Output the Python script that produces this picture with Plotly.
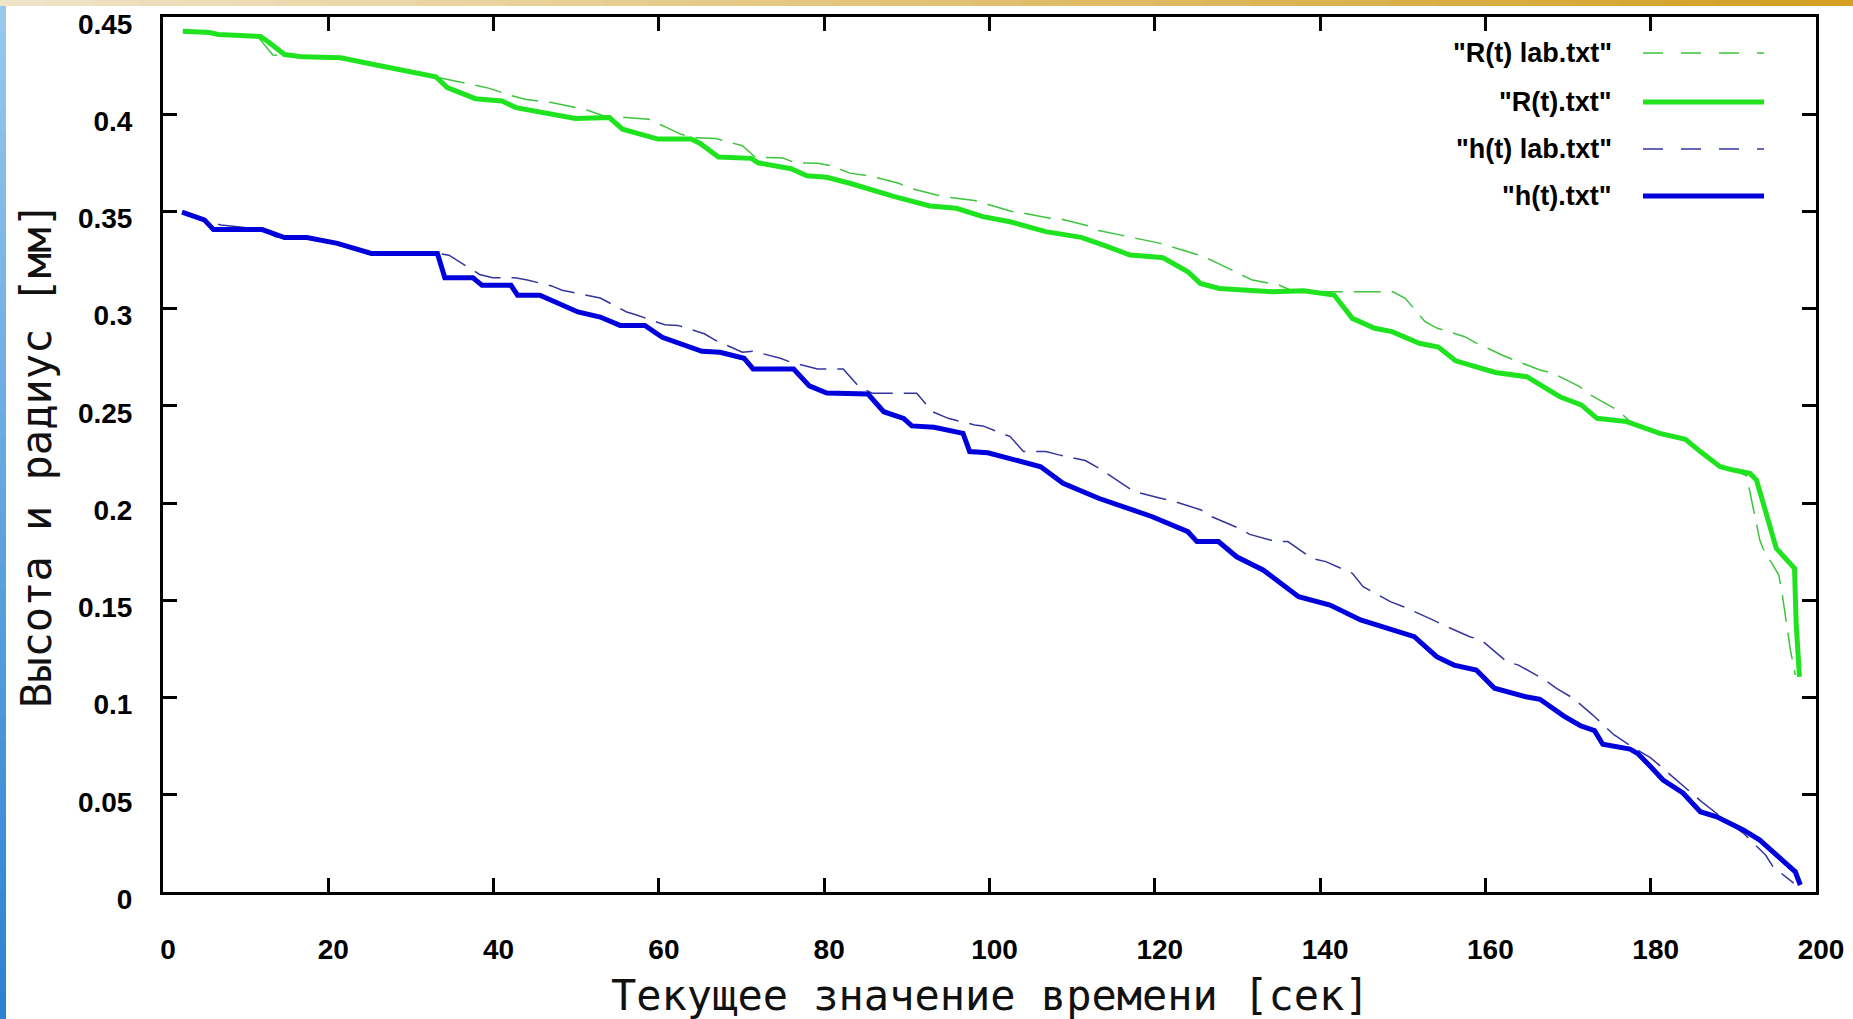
import plotly.graph_objects as go

# ---------------- data ----------------
R_t_time = [2.4, 5.6, 6.7, 11.8, 12.8, 14.7, 16.9, 21.5, 25.5, 33.0, 34.4, 37.8, 41.0, 42.7, 49.9,
            54.0, 55.6, 59.9, 63.9, 65.0, 67.2, 71.2, 72.0, 76.0, 77.9, 80.3, 83.1, 88.5, 92.8, 96.0,
            99.2, 102.5, 106.8, 111.1, 113.8, 117.0, 119.7, 121.0, 124.0, 125.5, 127.8, 134.2, 138.0,
            141.7, 143.9, 146.6, 148.7, 152.0, 154.3, 156.4, 161.2, 165.0, 169.0, 171.6, 173.5, 177.1,
            181.1, 184.2, 186.0, 188.4, 190.0, 192.0, 192.8, 195.2, 197.4, 197.6, 198.0]
R_t_val = [0.4427, 0.442, 0.441, 0.440, 0.437, 0.4307, 0.4295, 0.429, 0.4256, 0.4193, 0.4137, 0.408,
           0.4068, 0.4034, 0.3978, 0.3983, 0.3923, 0.3872, 0.3872, 0.385, 0.378, 0.3773, 0.375, 0.372,
           0.3684, 0.3676, 0.3645, 0.3576, 0.3528, 0.3516, 0.3473, 0.3447, 0.3396, 0.3367, 0.3327,
           0.3276, 0.3267, 0.3262, 0.319, 0.313, 0.3104, 0.3087, 0.3092, 0.307, 0.295, 0.2899, 0.2882,
           0.2822, 0.2803, 0.2732, 0.2672, 0.265, 0.2547, 0.2505, 0.2436, 0.2419, 0.2359, 0.2328,
           0.2265, 0.2187, 0.217, 0.2153, 0.2119, 0.1767, 0.1665, 0.1382, 0.1107]

R_lab_time = [2.4, 5.6, 6.7, 11.5, 13.3, 16.9, 21.5, 25.5, 33.0, 34.6, 37.3, 39.5, 42.0, 43.8, 47.0,
              51.3, 53.4, 56.0, 58.8, 60.9, 62.6, 64.2, 66.9, 70.1, 71.7, 75.0, 76.5, 79.2, 80.9, 83.1,
              85.8, 89.0, 90.4, 93.6, 95.0, 98.2, 99.5, 102.7, 104.1, 107.3, 108.7, 111.9, 113.2, 116.5,
              117.8, 121.0, 122.6, 125.9, 127.2, 130.4, 131.8, 135.0, 136.4, 139.6, 141.0, 148.8, 150.3,
              152.7, 154.2, 157.5, 158.8, 162.0, 164.0, 166.6, 168.2, 171.4, 172.7, 176.1, 177.5, 181.1,
              184.2, 186.0, 188.4, 190.0, 191.6, 193.2, 193.6, 195.5, 195.9, 196.9, 197.5]
R_lab_val = [0.4427, 0.442, 0.441, 0.4397, 0.4305, 0.4295, 0.429, 0.4256, 0.4193, 0.418, 0.4154, 0.4133,
             0.4097, 0.4077, 0.406, 0.4022, 0.399, 0.3983, 0.3974, 0.3932, 0.3898, 0.388, 0.3875,
             0.3838, 0.3778, 0.3775, 0.375, 0.3748, 0.3735, 0.3697, 0.368, 0.3645, 0.3619, 0.3585,
             0.3573, 0.3556, 0.3539, 0.35, 0.3491, 0.3465, 0.346, 0.3426, 0.3402, 0.3374, 0.3362,
             0.3333, 0.3311, 0.3268, 0.3242, 0.3173, 0.3147, 0.3122, 0.3096, 0.3087, 0.3087, 0.3087,
             0.3053, 0.2933, 0.2899, 0.2856, 0.2825, 0.2762, 0.2727, 0.2685, 0.2667, 0.2599, 0.2556,
             0.2475, 0.2419, 0.2359, 0.2328, 0.2265, 0.2187, 0.217, 0.214, 0.181, 0.1766, 0.163,
             0.1536, 0.1245, 0.1116]

h_t_time = [2.3, 5.0, 6.1, 12.0, 14.7, 17.4, 21.1, 25.2, 33.2, 34.1, 37.5, 38.6, 42.1, 42.9, 45.6,
            50.2, 52.9, 55.3, 58.3, 60.4, 65.2, 67.4, 70.3, 71.4, 76.3, 78.2, 80.3, 84.0, 85.3, 87.2,
            89.6, 90.6, 93.3, 96.8, 97.6, 99.8, 106.2, 108.9, 113.2, 119.7, 124.0, 125.1, 127.7, 129.9,
            133.1, 137.4, 141.2, 144.9, 151.4, 154.1, 156.2, 158.9, 161.1, 164.9, 166.6, 169.5, 171.5,
            173.2, 174.2, 177.5, 178.5, 180.0, 181.5, 183.9, 186.0, 188.0, 191.2, 193.2, 196.0, 197.5,
            198.1]
h_t_val = [0.3497, 0.3457, 0.3407, 0.3407, 0.3366, 0.3366, 0.3336, 0.3284, 0.3284, 0.3159, 0.3159,
           0.312, 0.312, 0.3069, 0.3069, 0.2983, 0.2957, 0.2914, 0.2914, 0.2853, 0.2781, 0.2776, 0.2745,
           0.269, 0.269, 0.2603, 0.2566, 0.2566, 0.2561, 0.247, 0.2436, 0.2397, 0.239, 0.2359, 0.2265,
           0.2259, 0.2187, 0.2102, 0.2025, 0.193, 0.1853, 0.1802, 0.1802, 0.1724, 0.1656, 0.1519,
           0.1476, 0.1399, 0.1313, 0.121, 0.1167, 0.1142, 0.1048, 0.1004, 0.0991, 0.0905, 0.0855,
           0.083, 0.076, 0.0735, 0.071, 0.0644, 0.0576, 0.0509, 0.0413, 0.0387, 0.0319, 0.0267,
           0.0165, 0.0104, 0.0036]

h_lab_time = [2.3, 5.0, 7.0, 12.0, 13.6, 17.4, 21.1, 25.2, 33.3, 34.6, 38.3, 39.9, 42.6, 44.1, 47.0,
              48.3, 51.5, 52.9, 56.1, 57.4, 60.7, 62.3, 65.5, 66.9, 70.1, 71.4, 74.7, 76.0, 79.2, 80.6,
              82.3, 84.2, 85.8, 91.2, 93.1, 95.0, 98.2, 99.2, 102.5, 104.1, 106.8, 108.4, 111.6, 113.2,
              116.2, 117.5, 120.7, 122.4, 125.6, 126.9, 130.2, 131.5, 134.7, 136.1, 139.0, 140.7, 143.9,
              145.2, 148.5, 150.1, 153.5, 154.9, 158.1, 159.5, 162.6, 164.0, 167.2, 168.6, 170.6, 173.0,
              175.5, 178.0, 180.0, 183.0, 186.0, 189.0, 191.2, 193.9, 194.8, 197.3]
h_lab_val = [0.3497, 0.3457, 0.343, 0.3409, 0.337, 0.3366, 0.3336, 0.3284, 0.3284, 0.3275, 0.3176,
             0.3159, 0.3159, 0.3147, 0.3117, 0.3095, 0.3069, 0.3055, 0.2983, 0.2966, 0.2917, 0.2914,
             0.2871, 0.2836, 0.2776, 0.2781, 0.2745, 0.2724, 0.269, 0.269, 0.269, 0.2599, 0.2565,
             0.2565, 0.247, 0.2436, 0.2402, 0.2397, 0.2342, 0.2265, 0.2265, 0.2248, 0.2219, 0.218,
             0.2094, 0.2059, 0.2025, 0.2008, 0.1965, 0.193, 0.187, 0.1839, 0.1802, 0.1802, 0.1716,
             0.1699, 0.1639, 0.157, 0.1493, 0.1467, 0.1402, 0.1373, 0.1313, 0.1296, 0.1184, 0.1167,
             0.109, 0.1047, 0.0997, 0.091, 0.081, 0.074, 0.069, 0.058, 0.047, 0.037, 0.0303, 0.019,
             0.013, 0.0046]

series_names = ['"R(t) lab.txt"', '"R(t).txt"', '"h(t) lab.txt"', '"h(t).txt"']
x_ticks = [0, 20, 40, 60, 80, 100, 120, 140, 160, 180, 200]
y_ticks = [0, 0.05, 0.1, 0.15, 0.2, 0.25, 0.3, 0.35, 0.4, 0.45]
y_tick_text = ["0", "0.05", "0.1", "0.15", "0.2", "0.25", "0.3", "0.35", "0.4", "0.45"]
x_title = "Текущее значение времени [сек]"
y_title = "Высота и радиус [мм]"

# ---------------- styles ----------------
GREEN = "#1fe31f"
GREEN_THIN = "#3cc43c"
BLUE = "#0000dc"
BLUE_THIN = "#34349e"
DASH = "27px,11px"

W, H = 1853, 1019
L, R, T, B = 163, 37, 17, 127
PW, PH = W - L - R, H - T - B


def px_to_paper_x(px):
    return (px - L) / PW


def px_to_paper_y(py):
    return (H - B - py) / PH


fig = go.Figure()
fig.add_trace(go.Scatter(x=R_lab_time, y=R_lab_val, mode="lines", name=series_names[0],
                         line=dict(color=GREEN_THIN, width=1.5, dash=DASH)))
fig.add_trace(go.Scatter(x=R_t_time, y=R_t_val, mode="lines", name=series_names[1],
                         line=dict(color=GREEN, width=5)))
fig.add_trace(go.Scatter(x=h_lab_time, y=h_lab_val, mode="lines", name=series_names[2],
                         line=dict(color=BLUE_THIN, width=1.5, dash=DASH)))
fig.add_trace(go.Scatter(x=h_t_time, y=h_t_val, mode="lines", name=series_names[3],
                         line=dict(color=BLUE, width=5)))

shapes = []
annotations = []

# manual legend (text to the left of the sample, gnuplot style)
leg_rows_px = [53, 102, 149, 196]
leg_styles = [(GREEN_THIN, 1.5, "20px,18px"), (GREEN, 5, "solid"),
              (BLUE_THIN, 1.5, "20px,18px"), (BLUE, 5, "solid")]
for name, ypx, (col, wid, dsh) in zip(series_names, leg_rows_px, leg_styles):
    annotations.append(dict(xref="paper", yref="paper", x=px_to_paper_x(1614), y=px_to_paper_y(ypx),
                            xanchor="right", yanchor="middle", text=name, showarrow=False,
                            font=dict(family="Liberation Sans", size=27, color="black", weight="bold")))
    shapes.append(dict(type="line", xref="paper", yref="paper",
                       x0=px_to_paper_x(1643), x1=px_to_paper_x(1764),
                       y0=px_to_paper_y(ypx), y1=px_to_paper_y(ypx),
                       line=dict(color=col, width=wid, dash=dsh)))

# axis titles
annotations.append(dict(xref="paper", yref="paper", x=px_to_paper_x(990), y=px_to_paper_y(996),
                        xanchor="center", yanchor="middle", text=x_title, showarrow=False,
                        font=dict(family="DejaVu Sans Mono", size=42, color="#111111")))
annotations.append(dict(xref="paper", yref="paper", x=px_to_paper_x(36), y=px_to_paper_y(455),
                        xanchor="center", yanchor="middle", text=y_title, showarrow=False, textangle=-90,
                        font=dict(family="DejaVu Sans Mono", size=42, color="#111111")))

# slide decorations: gold gradient strip on top, blue strip on the left
n = 40
for i in range(n):
    f = i / (n - 1)
    r = int(240 + (212 - 240) * f)
    g = int(228 + (160 - 228) * f)
    b = int(200 + (35 - 200) * f)
    shapes.append(dict(type="rect", xref="paper", yref="paper", layer="above",
                       x0=px_to_paper_x(W * i / n), x1=px_to_paper_x(W * (i + 1) / n + 1),
                       y0=px_to_paper_y(6), y1=px_to_paper_y(0),
                       line=dict(width=0), fillcolor=f"rgb({r},{g},{b})"))
for i in range(n):
    f = i / (n - 1)
    r = int(150 + (45 - 150) * f)
    g = int(200 + (130 - 200) * f)
    b = int(238 + (210 - 238) * f)
    shapes.append(dict(type="rect", xref="paper", yref="paper", layer="above",
                       x0=px_to_paper_x(0), x1=px_to_paper_x(6),
                       y0=px_to_paper_y(6 + (H - 6) * (i + 1) / n + 1), y1=px_to_paper_y(6 + (H - 6) * i / n),
                       line=dict(width=0), fillcolor=f"rgb({r},{g},{b})"))

axis_common = dict(showline=True, linecolor="black", linewidth=3, mirror="ticks",
                   ticks="inside", ticklen=14, tickwidth=3, tickcolor="black",
                   showgrid=False, zeroline=False, automargin=False,
                   tickfont=dict(family="Liberation Sans", size=28, color="black", weight="bold"))

fig.update_layout(
    width=W, height=H, autosize=False,
    margin=dict(l=L, r=R, t=T, b=B, pad=0),
    paper_bgcolor="white", plot_bgcolor="white",
    showlegend=False,
    xaxis=dict(range=[0, 200], tickvals=x_ticks, ticktext=[str(v) for v in x_ticks],
               ticklabelstandoff=30, ticklabelshift=5, **axis_common),
    yaxis=dict(range=[0, 0.45], tickvals=y_ticks, ticktext=y_tick_text,
               ticklabelstandoff=22, ticklabelshift=7, **axis_common),
    shapes=shapes,
    annotations=annotations,
)

fig.write_html("out.html", config={"displayModeBar": False},
               post_script="document.body.style.margin='0';")
